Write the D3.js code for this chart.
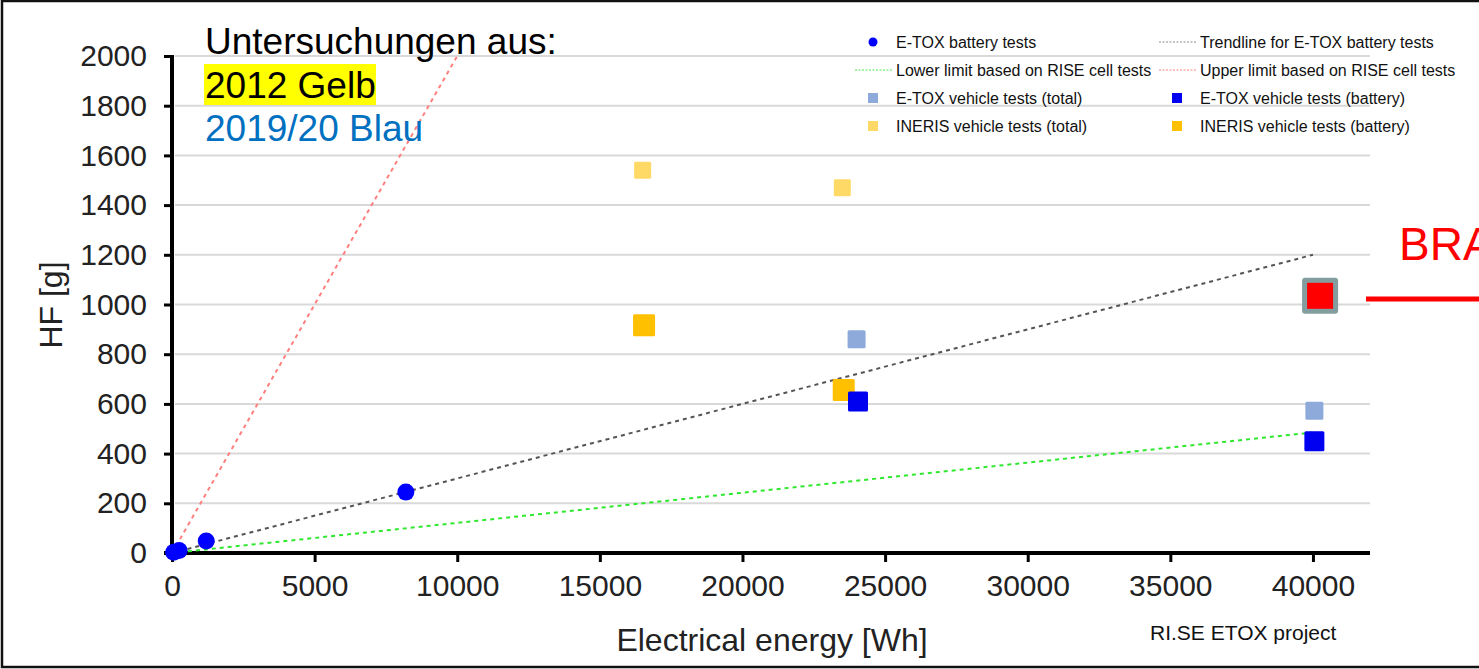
<!DOCTYPE html>
<html>
<head>
<meta charset="utf-8">
<script src="https://cdn.jsdelivr.net/npm/d3@7"></script>
<style>
  body { margin: 0; background: #fff; }
  svg { display: block; font-family: "Liberation Sans", Arial, sans-serif; }
</style>
</head>
<body>
<div id="container"></div>
<script>
// --- data ---
const etoxBatteryEnergy = [60, 250, 1200, 8200];
const etoxBatteryHF = [3, 10, 48, 245];

const etoxVehicleTotalEnergy = [24000, 40050];
const etoxVehicleTotalHF = [860, 572];

const etoxVehicleBatteryEnergy = [24050, 40050];
const etoxVehicleBatteryHF = [610, 450];

const inerisTotalEnergy = [16500, 23500];
const inerisTotalHF = [1540, 1470];

const inerisBatteryEnergy = [16550, 23550];
const inerisBatteryHF = [917, 656];

const trendEnergy = [0, 40000];
const trendHF = [0, 1200];
const lowerEnergy = [0, 40000];
const lowerHF = [0, 485];
const upperEnergy = [0, 10000];
const upperHF = [0, 2000];

const braEnergy = [40250];
const braHF = [1035];

const xTicks = [0, 5000, 10000, 15000, 20000, 25000, 30000, 35000, 40000];
const yTicks = [0, 200, 400, 600, 800, 1000, 1200, 1400, 1600, 1800, 2000];

const zip = (xs, ys) => xs.map((x, i) => ({x: x, y: ys[i]}));

const main = () => {
    const w = 1479;
    const h = 669;

    const viz = d3.select('#container').append('svg')
        .attr('width', w)
        .attr('height', h);

    // outer frame
    viz.append('rect')
        .attr('x', 2).attr('y', 1)
        .attr('width', w + 10).attr('height', h - 3)
        .style('fill', 'none')
        .style('stroke', '#111')
        .style('stroke-width', 2.5);

    const xScale = d3.scaleLinear().domain([0, 42000]).range([172, 1370]);
    const yScale = d3.scaleLinear().domain([0, 2000]).range([553, 56]);

    // gridlines
    viz.selectAll('.grid').data(yTicks.filter(d => d > 0))
        .enter()
        .append('line')
        .attr('class', 'grid')
        .attr('x1', xScale(0) + 3)
        .attr('x2', xScale(42000))
        .attr('y1', d => yScale(d))
        .attr('y2', d => yScale(d))
        .style('stroke', '#d9d9d9')
        .style('stroke-width', 2);

    // y axis
    const yAxis = d3.axisLeft(yScale).tickValues(yTicks).tickFormat(d3.format('d')).tickSize(8).tickPadding(17);
    const yAxisGroup = viz.append('g')
        .attr('class', 'yaxisgroup')
        .attr('transform', 'translate(' + xScale(0) + ',0)');
    yAxisGroup.call(yAxis);
    yAxisGroup.select('.domain').remove();
    yAxisGroup.append('line')
        .attr('x1', 0).attr('x2', 0)
        .attr('y1', yScale(2000) - 1).attr('y2', yScale(0) + 2)
        .style('stroke', '#000').style('stroke-width', 4);
    yAxisGroup.selectAll('.tick line').style('stroke', '#000').style('stroke-width', 3);
    yAxisGroup.selectAll('.tick text')
        .style('font-size', '30px')
        .style('fill', '#222')
        .attr('font-family', null);

    // x axis
    const xAxis = d3.axisBottom(xScale).tickValues(xTicks).tickFormat(d3.format('d')).tickSize(9).tickPadding(13);
    const xAxisGroup = viz.append('g')
        .attr('class', 'xaxisgroup')
        .attr('transform', 'translate(0,' + yScale(0) + ')');
    xAxisGroup.call(xAxis);
    xAxisGroup.select('.domain').remove();
    xAxisGroup.append('line')
        .attr('x1', xScale(0) - 8).attr('x2', xScale(42000))
        .attr('y1', 0).attr('y2', 0)
        .style('stroke', '#000').style('stroke-width', 4);
    xAxisGroup.selectAll('.tick line').style('stroke', '#000').style('stroke-width', 3);
    xAxisGroup.selectAll('.tick text')
        .style('font-size', '30px')
        .style('fill', '#222')
        .attr('font-family', null);

    // axis titles
    viz.append('text')
        .attr('x', 772).attr('y', 651)
        .attr('text-anchor', 'middle')
        .style('font-size', '32px')
        .style('fill', '#222')
        .text('Electrical energy [Wh]');
    viz.append('text')
        .attr('transform', 'translate(62,305) rotate(-90)')
        .attr('text-anchor', 'middle')
        .style('font-size', '32px')
        .style('fill', '#222')
        .text('HF [g]');
    viz.append('text')
        .attr('x', 1150).attr('y', 640)
        .style('font-size', '21px')
        .style('fill', '#111')
        .text('RI.SE ETOX project');

    // lines
    const lineMaker = d3.line()
        .x(d => xScale(d.x))
        .y(d => yScale(d.y));

    const lineData = [
        {pts: zip(upperEnergy, upperHF), color: '#ff7f7f'},
        {pts: zip(lowerEnergy, lowerHF), color: '#2ee82e'},
        {pts: zip(trendEnergy, trendHF), color: '#555'}
    ];
    viz.selectAll('.trend').data(lineData)
        .enter()
        .append('path')
        .attr('class', 'trend')
        .attr('d', d => lineMaker(d.pts))
        .style('fill', 'none')
        .style('stroke', d => d.color)
        .style('stroke-width', 2)
        .style('stroke-dasharray', '4,4');

    // square markers
    const square = (cls, pts, size, color) => {
        viz.selectAll('.' + cls).data(pts)
            .enter()
            .append('rect')
            .attr('class', cls)
            .attr('x', d => xScale(d.x) - size / 2)
            .attr('y', d => yScale(d.y) - size / 2)
            .attr('width', size)
            .attr('height', size)
            .attr('rx', 1.5)
            .style('fill', color);
    };
    square('inerisTotal', zip(inerisTotalEnergy, inerisTotalHF), 17, '#ffd966');
    square('etoxVehTotal', zip(etoxVehicleTotalEnergy, etoxVehicleTotalHF), 18, '#8eaadb');
    square('inerisBattery', zip(inerisBatteryEnergy, inerisBatteryHF), 22, '#ffc000');
    square('etoxVehBattery', zip(etoxVehicleBatteryEnergy, etoxVehicleBatteryHF), 20, '#0000f0');

    viz.selectAll('.batt').data(zip(etoxBatteryEnergy, etoxBatteryHF))
        .enter()
        .append('circle')
        .attr('class', 'batt')
        .attr('cx', d => xScale(d.x))
        .attr('cy', d => yScale(d.y))
        .attr('r', 8.5)
        .style('fill', '#0000ff');

    // BRA highlight
    const bra = zip(braEnergy, braHF);
    viz.selectAll('.braBox').data(bra)
        .enter()
        .append('rect')
        .attr('class', 'braBox')
        .attr('x', d => xScale(d.x) - 18)
        .attr('y', d => yScale(d.y) - 18)
        .attr('width', 36).attr('height', 36)
        .attr('rx', 3)
        .style('fill', '#849ea0');
    viz.selectAll('.braIn').data(bra)
        .enter()
        .append('rect')
        .attr('class', 'braIn')
        .attr('x', d => xScale(d.x) - 13)
        .attr('y', d => yScale(d.y) - 13)
        .attr('width', 26).attr('height', 26)
        .style('fill', '#ff0000');
    viz.append('line')
        .attr('x1', 1366).attr('x2', w)
        .attr('y1', 299).attr('y2', 299)
        .style('stroke', '#ff0000').style('stroke-width', 5);
    viz.append('text')
        .attr('x', 1399).attr('y', 260)
        .style('font-size', '46px')
        .style('fill', '#ff0000')
        .text('BRA');

    // annotation top-left
    viz.append('rect')
        .attr('x', 204).attr('y', 64)
        .attr('width', 172).attr('height', 41)
        .style('fill', '#ffff00');
    viz.append('text')
        .attr('x', 205).attr('y', 54)
        .style('font-size', '37px').style('fill', '#000')
        .text('Untersuchungen aus:');
    viz.append('text')
        .attr('x', 205).attr('y', 98)
        .style('font-size', '37px').style('fill', '#000')
        .text('2012 Gelb');
    viz.append('text')
        .attr('x', 205).attr('y', 141)
        .style('font-size', '37px').style('fill', '#0070c0')
        .text('2019/20 Blau');

    // legend
    const legendItems = [
        {label: 'E-TOX battery tests', col: 0, row: 0, kind: 'circle', color: '#0000ff'},
        {label: 'Trendline for E-TOX battery tests', col: 1, row: 0, kind: 'line', color: '#888'},
        {label: 'Lower limit based on RISE cell tests', col: 0, row: 1, kind: 'line', color: '#4ce84c'},
        {label: 'Upper limit based on RISE cell tests', col: 1, row: 1, kind: 'line', color: '#ff8080'},
        {label: 'E-TOX vehicle tests (total)', col: 0, row: 2, kind: 'square', color: '#8eaadb'},
        {label: 'E-TOX vehicle tests (battery)', col: 1, row: 2, kind: 'square', color: '#0000f0'},
        {label: 'INERIS vehicle tests (total)', col: 0, row: 3, kind: 'square', color: '#ffd966'},
        {label: 'INERIS vehicle tests (battery)', col: 1, row: 3, kind: 'square', color: '#ffc000'}
    ];
    const legend = viz.selectAll('.legend').data(legendItems)
        .enter()
        .append('g')
        .attr('class', 'legend')
        .attr('transform', d => 'translate(' + (d.col === 0 ? 896 : 1200) + ',' + (42 + d.row * 28) + ')');
    legend.filter(d => d.kind === 'circle')
        .append('circle')
        .attr('cx', -23).attr('cy', 0).attr('r', 4.5)
        .style('fill', d => d.color);
    legend.filter(d => d.kind === 'square')
        .append('rect')
        .attr('x', -28).attr('y', -5).attr('width', 10).attr('height', 10)
        .style('fill', d => d.color);
    legend.filter(d => d.kind === 'line')
        .append('line')
        .attr('x1', -41).attr('x2', -4).attr('y1', 0).attr('y2', 0)
        .style('stroke', d => d.color)
        .style('stroke-width', 1)
        .style('stroke-dasharray', '2,1.5');
    legend.append('text')
        .attr('x', 0).attr('y', 5.5)
        .style('font-size', '16px')
        .style('fill', '#111')
        .text(d => d.label);
};
main();
</script>
</body>
</html>
